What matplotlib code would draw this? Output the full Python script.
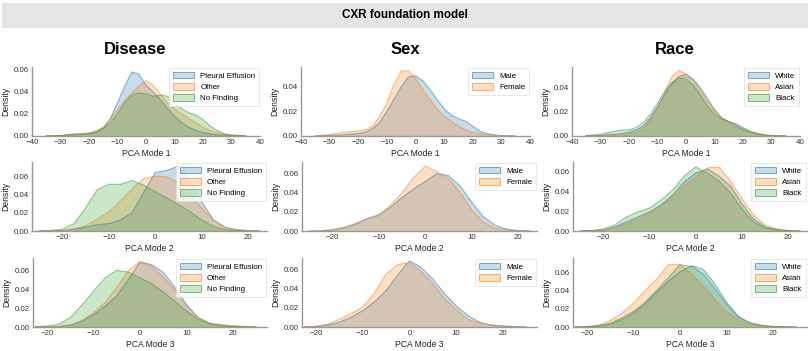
import matplotlib
matplotlib.use("Agg")
import matplotlib.pyplot as plt
from matplotlib.patches import Patch, Rectangle

plt.rcParams['font.family'] = ['Liberation Sans', 'DejaVu Sans']

# ---------------- data (densities) ----------------
suptitle = "CXR foundation model"
col_titles = ["Disease", "Sex", "Race"]
row_xlabels = ["PCA Mode 1", "PCA Mode 2", "PCA Mode 3"]

disease_groups = ["Pleural Effusion", "Other", "No Finding"]
sex_groups = ["Male", "Female"]
race_groups = ["White", "Asian", "Black"]

x_mode1 = [-35, -30, -25, -22.5, -20, -17.5, -15, -12.5, -10, -7.5, -5, -2.5, 0,
           2.5, 5, 7.5, 10, 12.5, 15, 17.5, 20, 22.5, 25, 27.5, 30, 35]
x_mode2 = [-25, -22.5, -20, -17.5, -15, -12.5, -10, -7.5, -5, -2.5, 0, 2.5, 5,
           7.5, 10, 12.5, 15, 17.5, 20, 22.5]
x_mode3 = [-22.5, -20, -17.5, -15, -12.5, -10, -7.5, -5, -2.5, 0, 2.5, 5, 7.5,
           10, 12.5, 15, 17.5, 20, 22.5, 25]

# Mode 1
m1_pleural = [.0001, .0005, .002, .002, .002, .003, .007, .016, .030, .045, .058, .056, .046,
              .040, .033, .025, .018, .012, .008, .005, .003, .002, .001, .0006, .0003, .0001]
m1_other = [.0001, .0003, .001, .002, .003, .005, .008, .015, .024, .032, .039, .045, .050,
            .046, .038, .030, .025, .020, .016, .012, .008, .005, .003, .0015, .0007, .0001]
m1_nofind = [.0001, .0004, .0012, .0016, .002, .004, .007, .012, .020, .030, .037, .039, .038,
             .036, .037, .036, .031, .025, .021, .019, .015, .009, .005, .002, .001, .0002]
m1_male = [.0001, .0004, .001, .0015, .002, .003, .006, .011, .020, .030, .040, .048, .049,
           .045, .038, .030, .022, .017, .014, .012, .008, .004, .002, .001, .0004, .0001]
m1_female = [.0002, .0012, .003, .0035, .004, .005, .008, .016, .027, .042, .053, .053, .047,
             .038, .030, .022, .016, .012, .008, .005, .003, .002, .001, .0005, .0002, .0]
m1_white = [.0001, .0005, .0015, .002, .003, .005, .008, .015, .024, .034, .043, .049, .051,
            .047, .040, .031, .022, .015, .012, .010, .007, .004, .002, .001, .0004, .0001]
m1_asian = [.0, .0002, .0007, .001, .002, .003, .006, .013, .023, .036, .049, .054, .051,
            .046, .038, .029, .021, .015, .011, .008, .006, .004, .0025, .001, .0004, .0001]
m1_black = [.0003, .0015, .004, .005, .005, .007, .011, .018, .027, .037, .044, .048, .047,
            .042, .034, .025, .018, .014, .012, .009, .005, .003, .0015, .0007, .0003, .0]

# Mode 2
m2_pleural = [.0, .0001, .0005, .002, .004, .007, .008, .012, .020, .042, .064, .066, .071,
              .055, .032, .012, .004, .0015, .0005, .0001]
m2_other = [.0, .0002, .0007, .002, .006, .013, .021, .033, .046, .057, .060, .059, .053,
            .040, .025, .012, .004, .0012, .0003, .0]
m2_nofind = [.0001, .0005, .002, .008, .025, .045, .051, .051, .055, .050, .043, .036, .029,
             .021, .012, .005, .0015, .0005, .0001, .0]
m2_male = [.0, .0002, .001, .003, .007, .013, .017, .025, .035, .044, .052, .060, .058,
           .047, .030, .015, .006, .002, .0005, .0001]
m2_female = [.0001, .0003, .0015, .004, .008, .013, .016, .027, .040, .056, .068, .062, .055,
             .040, .022, .009, .003, .001, .0003, .0]
m2_white = [.0, .0002, .001, .004, .009, .014, .019, .026, .036, .049, .058, .062, .055,
            .045, .027, .012, .004, .0015, .0005, .0001]
m2_asian = [.0, .0002, .001, .003, .007, .012, .018, .025, .034, .045, .054, .063, .064,
            .050, .032, .016, .006, .002, .0005, .0001]
m2_black = [.0, .0005, .002, .006, .014, .019, .023, .031, .041, .055, .064, .058, .050,
            .038, .022, .009, .003, .001, .0002, .0]

# Mode 3
m3_pleural = [.0, .0002, .0005, .002, .006, .013, .022, .033, .050, .069, .066, .058, .042,
              .024, .010, .004, .002, .0008, .0003, .0001]
m3_other = [.0, .0002, .0005, .002, .007, .015, .026, .042, .060, .069, .064, .053, .039,
            .022, .010, .004, .0025, .0015, .0005, .0001]
m3_nofind = [.0003, .001, .003, .010, .023, .038, .052, .060, .058, .052, .046, .037, .027,
             .017, .008, .003, .001, .0003, .0001, .0]
m3_male = [.0001, .0005, .002, .005, .010, .017, .026, .038, .054, .069, .062, .050, .035,
           .022, .012, .005, .002, .001, .0003, .0001]
m3_female = [.0002, .0008, .003, .008, .014, .021, .035, .055, .065, .067, .058, .045, .030,
             .018, .008, .004, .002, .0012, .0005, .0001]
m3_white = [.0, .0003, .001, .003, .008, .015, .025, .038, .050, .060, .067, .063, .047,
            .027, .012, .004, .0015, .0005, .0001, .0]
m3_asian = [.0001, .0005, .002, .007, .015, .026, .040, .052, .068, .068, .058, .045, .030,
            .017, .008, .003, .001, .0003, .0001, .0]
m3_black = [.0001, .0004, .0015, .004, .010, .017, .027, .040, .054, .068, .066, .058, .042,
            .025, .011, .005, .002, .0007, .0002, .0]

panels = [
    [(x_mode1, disease_groups, [m1_pleural, m1_other, m1_nofind]),
     (x_mode1, sex_groups, [m1_male, m1_female]),
     (x_mode1, race_groups, [m1_white, m1_asian, m1_black])],
    [(x_mode2, disease_groups, [m2_pleural, m2_other, m2_nofind]),
     (x_mode2, sex_groups, [m2_male, m2_female]),
     (x_mode2, race_groups, [m2_white, m2_asian, m2_black])],
    [(x_mode3, disease_groups, [m3_pleural, m3_other, m3_nofind]),
     (x_mode3, sex_groups, [m3_male, m3_female]),
     (x_mode3, race_groups, [m3_white, m3_asian, m3_black])],
]

row_xlims = [(-40, 40), (-26.5, 24), (-23, 27.3)]
row_xticks = [[-40, -30, -20, -10, 0, 10, 20, 30, 40], [-20, -10, 0, 10, 20], [-20, -10, 0, 10, 20]]
ylims = [[0.0624, 0.0561, 0.0569], [0.0753, 0.0722, 0.069], [0.073, 0.0718, 0.0753]]
colors = ["#1f77b4", "#ff7f0e", "#2ca02c"]

# ---------------- layout (pixels) ----------------
W, H = 810, 351
fig = plt.figure(figsize=(W / 100, H / 100), dpi=100)
fig.patch.set_facecolor("white")

def px_axes(left, top, right, bottom):
    return fig.add_axes([left / W, 1 - bottom / H, (right - left) / W, (bottom - top) / H])

row_tb = [(67, 136), (162, 231), (258, 327)]
col_lr = [[(32, 260), (301, 530), (572, 800)],
          [(32, 267), (302, 537), (573, 807)],
          [(33, 267), (302, 537), (573, 807)]]

# title band
fig.patches.append(Rectangle((2 / W, 1 - 28 / H), 806 / W, 25 / H, transform=fig.transFigure,
                             facecolor="#e5e5e5", edgecolor="none", zorder=0))
fig.text(405 / W, 1 - 15.5 / H, suptitle, ha="center", va="center", fontsize=8.4,
         fontweight="bold")
for j, t in enumerate(col_titles):
    fig.text((135 + 270 * j) / W, 1 - 50 / H, t, ha="center", va="center", fontsize=12,
             fontweight="bold")

for i in range(3):
    for j in range(3):
        l, r = col_lr[i][j]
        t, b = row_tb[i]
        ax = px_axes(l, t, r, b)
        xs, groups, dens = panels[i][j]
        for k, (g, d) in enumerate(zip(groups, dens)):
            ax.fill_between(xs, d, 0, facecolor=colors[k], alpha=0.25, linewidth=0)
            ax.plot(xs, d, color=colors[k], alpha=0.55, linewidth=0.7)
        ax.set_xlim(*row_xlims[i])
        ax.set_xticks(row_xticks[i])
        ax.set_ylim(0, ylims[i][j])
        ax.set_yticks([v for v in [0, 0.02, 0.04, 0.06] if v <= ylims[i][j]])
        ax.set_yticklabels([f"{v:.2f}" for v in ax.get_yticks()])
        ax.tick_params(length=0, pad=2.5, labelsize=5.7, colors="#333333")
        for s in ["top", "right"]:
            ax.spines[s].set_visible(False)
        for s in ["left", "bottom"]:
            ax.spines[s].set_color("#999999")
            ax.spines[s].set_linewidth(1.0)
        ax.set_xlabel(row_xlabels[i], fontsize=6.2, labelpad=1.5, color="#222222")
        ax.set_ylabel("Density", fontsize=6.2, labelpad=2, color="#222222")
        handles = [Patch(facecolor=matplotlib.colors.to_rgba(colors[k], 0.25),
                         edgecolor=matplotlib.colors.to_rgba(colors[k], 0.6), linewidth=0.7,
                         label=g) for k, g in enumerate(groups)]
        leg = ax.legend(handles=handles, loc="upper right", fontsize=5.7, frameon=True,
                        fancybox=False, borderaxespad=0.1, handlelength=2.6,
                        handleheight=0.9, labelspacing=0.4, borderpad=0.5,
                        handletextpad=0.8)
        leg.get_frame().set_edgecolor("#dddddd")
        leg.get_frame().set_linewidth(0.6)

fig.savefig("out.png", dpi=100)
